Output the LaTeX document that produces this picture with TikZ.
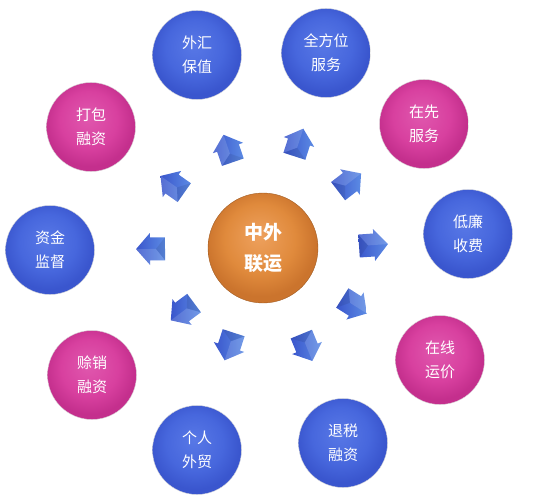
\documentclass[tikz,border=0pt]{standalone}
\usepackage{fontspec}
\newfontfamily\cjk{Noto Sans CJK SC}
\definecolor{blueL}{HTML}{5878E6}
\definecolor{blueM}{HTML}{4767DD}
\definecolor{blueD}{HTML}{3A56CE}
\definecolor{pinkL}{HTML}{E058AE}
\definecolor{pinkM}{HTML}{D8409F}
\definecolor{pinkD}{HTML}{C42F8D}
\definecolor{orgL}{HTML}{EEA15E}
\definecolor{orgM}{HTML}{E08A3C}
\definecolor{orgD}{HTML}{CB742D}
\definecolor{arrL}{HTML}{5C8BE4}
\definecolor{arrD}{HTML}{3A56CC}
\pgfdeclareradialshading{blueball}{\pgfpoint{-2bp}{6bp}}{color(0bp)=(blueL); color(16bp)=(blueM); color(25bp)=(blueD); color(50bp)=(blueD)}
\pgfdeclareradialshading{pinkball}{\pgfpoint{-2bp}{6bp}}{color(0bp)=(pinkL); color(16bp)=(pinkM); color(25bp)=(pinkD); color(50bp)=(pinkD)}
\pgfdeclareradialshading{orgball}{\pgfpoint{-2bp}{6bp}}{color(0bp)=(orgL); color(16bp)=(orgM); color(25bp)=(orgD); color(50bp)=(orgD)}
\tikzset{
  disc/.style={circle, minimum size=89pt, inner sep=0pt, shade, text=white, align=center,
    draw=black!15, line width=0.4pt,
    font=\cjk\fontsize{15}{24}\selectfont},
  bluedisc/.style={disc, shading=blueball},
  pinkdisc/.style={disc, shading=pinkball},
  hubdisc/.style={circle, minimum size=110pt, inner sep=0pt, shade, shading=orgball, text=white,
    align=center, draw=orgD!80!black, line width=0.4pt,
    font=\cjk\bfseries\fontsize{19}{31}\selectfont},
  arrowbody/.style={left color=arrD, right color=arrL, shading angle=90},
  facet/.style={fill=white, opacity=0.14}
}
\newcommand\myarrow[3]{%
  \begin{scope}[shift={(#1,#2)}, rotate=#3]
    \shade[arrowbody] (-15,-11.5) -- (0,-11.5) -- (0,-16) -- (14,0) -- (0,16) -- (0,11.5) -- (-15,11.5) -- cycle;
    \fill[facet] (-15,-11.5) -- (0,-11.5) -- (0,-16) -- (14,0) -- (-6,0) -- cycle;
    \fill[black, opacity=0.08] (-15,11.5) -- (-6,0) -- (-15,-11.5) -- cycle;
  \end{scope}}
\begin{document}
\begin{tikzpicture}[x=1pt, y=-1pt]
\useasboundingbox (0,0) rectangle (535,500);
% hub
\node[hubdisc] (hub) at (263,248) {中外\\联运};
% outer discs
\node[bluedisc] (wh) at (197,55) {外汇\\保值};
\node[bluedisc] (qf) at (326,53) {全方位\\服务};
\node[pinkdisc] (zx) at (424,124) {在先\\服务};
\node[bluedisc] (dl) at (468,234) {低廉\\收费};
\node[pinkdisc] (yj) at (440,360) {在线\\运价};
\node[bluedisc] (ts) at (343,443) {退税\\融资};
\node[bluedisc] (gr) at (197,450) {个人\\外贸};
\node[pinkdisc] (sx) at (92,375) {赊销\\融资};
\node[bluedisc] (zj) at (50,250) {资金\\监督};
\node[pinkdisc] (db) at (91,127) {打包\\融资};
% arrows
\myarrow{228}{148}{108.9}
\myarrow{299}{142}{72.1}
\myarrow{350}{182}{37.6}
\myarrow{374}{245}{3.9}
\myarrow{355}{306}{-32.3}
\myarrow{307}{348}{-67.7}
\myarrow{229}{347}{-108.1}
\myarrow{182}{312}{-143.4}
\myarrow{150}{249}{180.5}
\myarrow{172}{184}{144.9}
\end{tikzpicture}
\end{document}
